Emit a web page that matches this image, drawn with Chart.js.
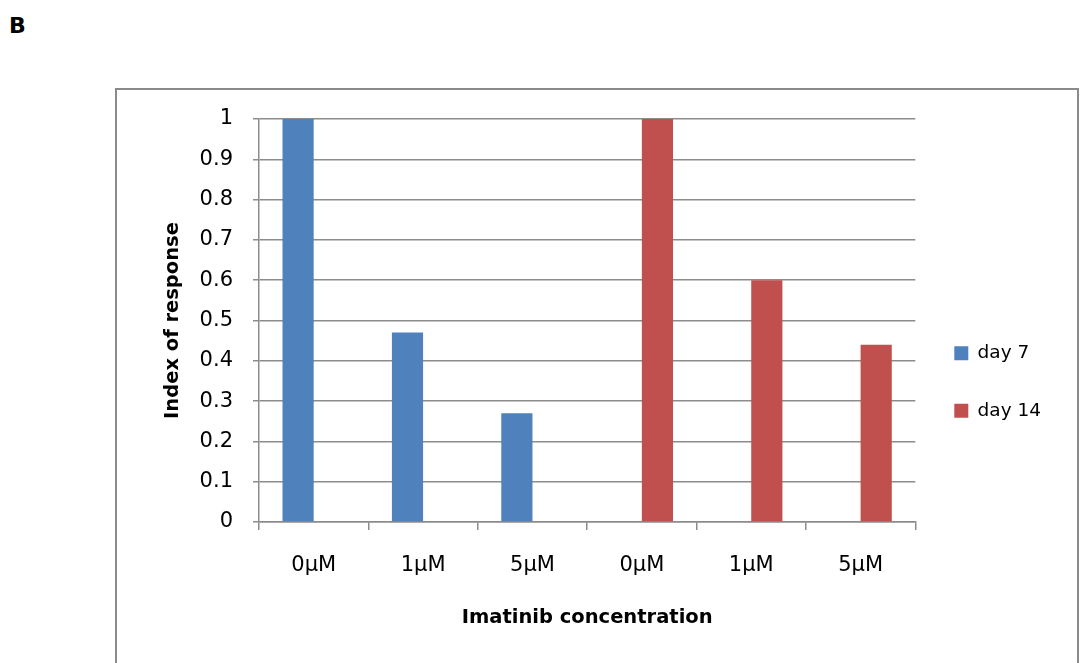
<!DOCTYPE html>
<html lang="en">
<head>
  <meta charset="UTF-8">
  <title>Index of response</title>
  <script src="https://cdn.jsdelivr.net/npm/chart.js"></script>
  <style>
    body {
      margin: 0;
      padding: 0;
      background: #fff;
      font-family: "DejaVu Sans", sans-serif;
    }
    .wrap {
      position: relative;
      width: 1081px;
      height: 663px;
      overflow: hidden;
    }
    .panel-label {
      position: absolute;
      left: 9px;
      top: 13px;
      font-weight: bold;
      font-size: 22px;
    }
    .frame {
      position: absolute;
      left: 115px;
      top: 88px;
      width: 960px;
      height: 620px;
      border: 2px solid #8a8a8a;
    }
    canvas {
      position: absolute;
      left: 0;
      top: 0;
    }
  </style>
</head>
<body>
  <div class="wrap">
    <div class="panel-label">B</div>
    <div class="frame"></div>
    <canvas id="barChart" width="1081" height="663"></canvas>
  </div>

  <script>
    const categories = ['0\u00b5M', '1\u00b5M', '5\u00b5M', '0\u00b5M', '1\u00b5M', '5\u00b5M'];
    const day7 = [1, 0.47, 0.27, null, null, null];
    const day14 = [null, null, null, 1, 0.6, 0.44];
    const yTicks = [0, 0.1, 0.2, 0.3, 0.4, 0.5, 0.6, 0.7, 0.8, 0.9, 1];

    const gridGray = '#8c8c8c';
    const fontFamily = '"DejaVu Sans", sans-serif';

    const ctx = document.getElementById('barChart').getContext('2d');
    const barChart = new Chart(ctx, {
      type: 'bar',
      data: {
        labels: categories,
        datasets: [
          {
            label: 'day 7',
            data: day7,
            backgroundColor: '#4f81bd',
            borderWidth: 0
          },
          {
            label: 'day 14',
            data: day14,
            backgroundColor: '#c0504d',
            borderWidth: 0
          }
        ]
      },
      options: {
        responsive: false,
        animation: false,
        devicePixelRatio: 1,
        categoryPercentage: 0.57,
        barPercentage: 1,
        layout: {
          padding: { left: 150, top: 119, right: 30, bottom: 18 }
        },
        plugins: {
          tooltip: { enabled: false },
          legend: {
            position: 'right',
            labels: {
              boxWidth: 14,
              boxHeight: 14,
              padding: 39,
              color: '#000',
              font: { family: fontFamily, size: 18.5 }
            }
          }
        },
        scales: {
          x: {
            afterFit: (scale) => { scale.height = 123; },
            grid: {
              offset: true,
              drawOnChartArea: false,
              tickLength: 8,
              color: gridGray,
              lineWidth: 1.5
            },
            border: { color: gridGray, width: 1.5 },
            ticks: {
              color: '#000',
              padding: 23,
              font: { family: fontFamily, size: 21 }
            },
            title: {
              display: true,
              text: 'Imatinib concentration',
              color: '#000',
              padding: { top: 0, bottom: 15 },
              font: { family: fontFamily, size: 19.5, weight: 'bold' }
            }
          },
          y: {
            min: 0,
            max: 1,
            afterFit: (scale) => { scale.width = 109; },
            afterBuildTicks: (scale) => {
              scale.ticks = yTicks.map(v => ({ value: v }));
            },
            grid: {
              color: gridGray,
              lineWidth: 1.5,
              tickLength: 6
            },
            border: { color: gridGray, width: 1.5 },
            ticks: {
              color: '#000',
              padding: 20,
              font: { family: fontFamily, size: 21 },
              callback: (v) => String(+v.toFixed(1))
            },
            title: {
              display: true,
              text: 'Index of response',
              color: '#000',
              padding: { top: 11, bottom: 0 },
              font: { family: fontFamily, size: 19.5, weight: 'bold' }
            }
          }
        }
      }
    });
  </script>
</body>
</html>
